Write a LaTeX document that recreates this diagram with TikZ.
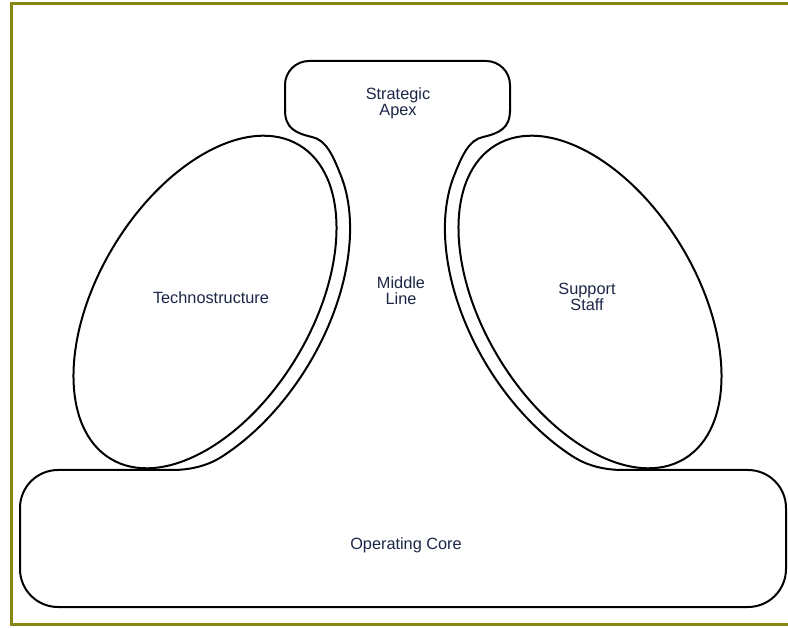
\documentclass[tikz,border=0pt]{standalone}
\usepackage{fontspec}
\setmainfont{Liberation Sans}

\definecolor{ink}{RGB}{28,38,70}
\definecolor{olivefr}{RGB}{134,134,20}

\tikzstyle{rim} = [line width=2pt, black]
\tikzstyle{tag} = [text=ink, align=center, inner sep=0pt, font=\fontsize{16.3}{16}\selectfont]
\tikzstyle{olivebox} = [line width=3pt, draw=olivefr]

\begin{document}
\begin{tikzpicture}[x=1pt, y=-1pt]
\useasboundingbox (0,0) rectangle (788,628);
\draw[olivebox] (11,4) rectangle (830,624.5);

% strategic apex
\draw[rim, rounded corners=24pt] (285,112) -- (285,61) -- (510,61) -- (510,112);
% operating core
\draw[rim, rounded corners=38pt] (172,470) -- (20,470) -- (20,607) -- (786,607) -- (786,470) -- (623,470);

% middle line, left side
\begin{scope}[shift={(205,302)}, rotate=59]
    \coordinate (lt) at (-25:197pt and 121pt);
    \coordinate (lb) at (-130:197pt and 121pt);
    \draw[rim] (lt) arc[start angle=-25, end angle=-130, x radius=197pt, y radius=121pt];
\end{scope}
\draw[rim] (285,110) .. controls (285,128) and (295,133) .. (312,137)
    .. controls (326,140) and (332.6,154.8) .. (lt);
\draw[rim] (lb) .. controls (206.3,465.9) and (190,470) .. (172,470);

% middle line, right side
\begin{scope}[shift={(590,302)}, rotate=-59]
    \coordinate (rt) at (-155:197pt and 121pt);
    \coordinate (rb) at (-50:197pt and 121pt);
    \draw[rim] (rt) arc[start angle=-155, end angle=-50, x radius=197pt, y radius=121pt];
\end{scope}
\draw[rim] (510,110) .. controls (510,128) and (500,133) .. (483,137)
    .. controls (469,140) and (462.4,154.8) .. (rt);
\draw[rim] (rb) .. controls (588.7,465.9) and (605,470) .. (623,470);

% technostructure and support staff
\draw[rim, rotate around={59:(205,302)}] (205,302) ellipse [x radius=183pt, y radius=107pt];
\draw[rim, rotate around={-59:(590,302)}] (590,302) ellipse [x radius=183pt, y radius=107pt];

\node[tag] (apex) at (398,103) {Strategic\\Apex};
\node[tag] (midline) at (401,291) {Middle\\Line};
\node[tag] (techno) at (211,298) {Technostructure};
\node[tag] (support) at (587,297) {Support\\Staff};
\node[tag] (core) at (406,545) {Operating Core};
\end{tikzpicture}
\end{document}
